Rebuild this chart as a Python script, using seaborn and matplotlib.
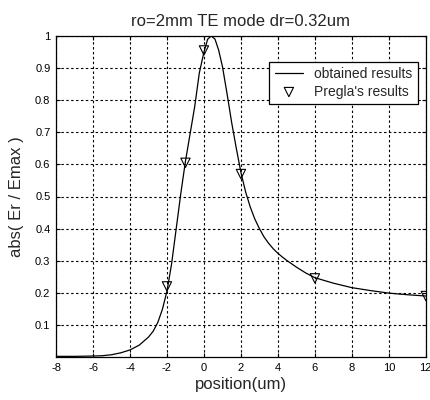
import matplotlib
matplotlib.use("Agg")
import matplotlib.pyplot as plt
import seaborn as sns
import pandas as pd

# Computed field profile along the radial position
position_um = [-8, -7, -6, -5.5, -5, -4.5, -4, -3.5, -3, -2.75, -2.5, -2.25, -2,
               -1.75, -1.5, -1.25, -1, -0.75, -0.5, -0.25, 0, 0.2, 0.4, 0.6, 0.8,
               1.0, 1.25, 1.5, 1.75, 2, 2.25, 2.5, 2.75, 3, 3.25, 3.5, 3.75, 4,
               4.25, 4.5, 5, 5.5, 6, 7, 8, 9, 10, 11, 12]
obtained = [0.002, 0.002, 0.003, 0.004, 0.007, 0.013, 0.022, 0.037, 0.062, 0.08,
            0.107, 0.148, 0.205, 0.29, 0.40, 0.51, 0.61, 0.695, 0.78, 0.885,
            0.95, 0.99, 1.0, 0.99, 0.955, 0.905, 0.82, 0.73, 0.65, 0.575, 0.515,
            0.468, 0.43, 0.40, 0.374, 0.354, 0.337, 0.323, 0.311, 0.30, 0.28,
            0.262, 0.247, 0.23, 0.216, 0.207, 0.199, 0.194, 0.19]

# Reference values (Pregla)
pregla_x = [-2, -1, 0, 2, 6, 12]
pregla_y = [0.22, 0.605, 0.955, 0.57, 0.245, 0.19]

x_ticks = [-8, -6, -4, -2, 0, 2, 4, 6, 8, 10, 12]
y_ticks = [0.1, 0.2, 0.3, 0.4, 0.5, 0.6, 0.7, 0.8, 0.9, 1.0]
y_tick_labels = ["0.1", "0.2", "0.3", "0.4", "0.5", "0.6", "0.7", "0.8", "0.9", "1"]

sns.set_style("white")
plt.rcParams["font.family"] = ["Liberation Sans", "DejaVu Sans"]

curve = pd.DataFrame({"position": position_um, "value": obtained})
refs = pd.DataFrame({"position": pregla_x, "value": pregla_y})

fig = plt.figure(figsize=(4.31, 4.0), dpi=100)
ax = fig.add_axes([0.130, 0.1075, 0.858, 0.8025])

sns.lineplot(data=curve, x="position", y="value", ax=ax, color="black",
             linewidth=0.9, estimator=None, sort=False, label="obtained results")
sns.scatterplot(data=refs, x="position", y="value", ax=ax, marker="v", s=45,
                facecolor="none", edgecolor="black", linewidth=0.8,
                label="Pregla's results", zorder=3)

ax.set_xlim(-8, 12)
ax.set_ylim(0, 1)
ax.set_xticks(x_ticks)
ax.set_xticklabels([str(t) for t in x_ticks])
ax.set_yticks(y_ticks)
ax.set_yticklabels(y_tick_labels)

for lab in ax.get_xticklabels() + ax.get_yticklabels():
    lab.set_fontsize(8)

ax.tick_params(direction="in", length=3, width=0.8, top=True, right=True,
               bottom=True, left=True, colors="black", pad=4)
ax.grid(True, color="black", linestyle=(0, (2.2, 2.2)), linewidth=0.8)
for sp in ax.spines.values():
    sp.set_color("black")
    sp.set_linewidth(0.9)

ax.set_title("ro=2mm TE mode dr=0.32um", fontsize=12, pad=7)
ax.set_xlabel("position(um)", fontsize=12, labelpad=3)
ax.set_ylabel("abs( Er / Emax )", fontsize=12, labelpad=8)

leg = ax.legend(loc="upper right", bbox_to_anchor=(0.978, 0.92), borderaxespad=0,
                fancybox=False, framealpha=1, edgecolor="black", fontsize=10,
                handlelength=2.0, borderpad=0.4, labelspacing=0.25)
leg.get_frame().set_linewidth(0.9)

fig.savefig("out.png", dpi=100, facecolor="white")
